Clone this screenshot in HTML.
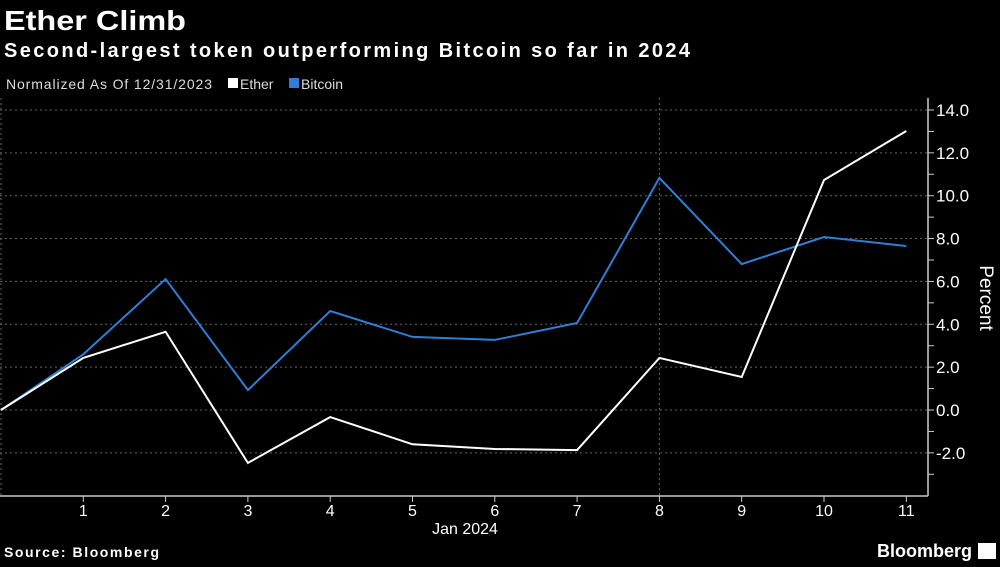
<!DOCTYPE html>
<html><head><meta charset="utf-8"><style>
body{margin:0;background:#000;width:1000px;height:562px;overflow:hidden;font-family:"Liberation Sans",sans-serif;color:#fff}
</style></head><body>
<svg width="1000" height="562" xmlns="http://www.w3.org/2000/svg">
<text x="4" y="30" font-size="28" font-weight="bold" fill="#fff" textLength="182" lengthAdjust="spacingAndGlyphs">Ether Climb</text>
<text x="4" y="57" font-size="20" font-weight="bold" fill="#fff" textLength="686" lengthAdjust="spacing">Second-largest token outperforming Bitcoin so far in 2024</text>
<text x="6" y="89" font-size="14" fill="#ddd" textLength="206">Normalized As Of 12/31/2023</text>
<rect x="228" y="78" width="10" height="10" fill="#fff"/>
<text x="240" y="89" font-size="14" fill="#ddd">Ether</text>
<rect x="289" y="78" width="10" height="10" fill="#2f7fd6"/>
<text x="301" y="89" font-size="14" fill="#ddd">Bitcoin</text>
<g id="grid"></g>
<g id="axes"></g>
<g id="series"></g>
<text transform="translate(980,298) rotate(90)" font-size="19" fill="#fff" text-anchor="middle">Percent</text>
<text x="465" y="534" font-size="16" fill="#fff" text-anchor="middle">Jan 2024</text>
<text x="4" y="557" font-size="14" font-weight="bold" fill="#fff" textLength="155">Source: Bloomberg</text>
<text x="972" y="557" font-size="18" font-weight="bold" fill="#fff" text-anchor="end">Bloomberg</text>
<rect x="978" y="543" width="18" height="16" fill="#fff"/>
</svg>
<script>
const days=[0,1,2,3,4,5,6,7,8,9,10,11];
const ether=[0,2.43,3.65,-2.47,-0.33,-1.6,-1.82,-1.87,2.43,1.54,10.73,13.02];
const bitcoin=[0,2.6,6.11,0.93,4.62,3.41,3.27,4.06,10.83,6.81,8.07,7.65];
const yTicks=[-2,0,2,4,6,8,10,12,14];
const xTicks=[1,2,3,4,5,6,7,8,9,10,11];
const NS="http://www.w3.org/2000/svg";
const x=d=>1+d*82.3;
const y=v=>410-v*21.43;
function mk(t,a,p){const e=document.createElementNS(NS,t);for(const k in a)e.setAttribute(k,a[k]);document.getElementById(p).appendChild(e);return e;}
yTicks.forEach(v=>{
 const g=mk('line',{x1:0,x2:928,y1:y(v),y2:y(v),stroke:'#666','stroke-dasharray':'2,3','stroke-width':1},'grid');
 
 
 const t=mk('text',{x:936,y:y(v)+6,'font-size':17,fill:'#fff'},'axes');t.textContent=v.toFixed(1);
 
 
});
for(let v=-3;v<=14;v++){const l=mk('line',{x1:928,x2:934,y1:y(v),y2:y(v),stroke:'#ccc'},'axes');
 
 }
[0,8].forEach(d=>{const l=mk('line',{x1:x(d),x2:x(d),y1:98,y2:496,stroke:'#666','stroke-dasharray':'2,3'},'grid');
 
 });
let a=mk('line',{x1:0,x2:928,y1:496,y2:496,stroke:'#ccc','stroke-width':1.5},'axes');


a=mk('line',{x1:928,x2:928,y1:98,y2:496,stroke:'#ccc','stroke-width':1.5},'axes');


xTicks.forEach(d=>{
 const l=mk('line',{x1:x(d),x2:x(d),y1:496,y2:502,stroke:'#ccc'},'axes');
 
 
 const t=mk('text',{x:x(d),y:516,'font-size':16,fill:'#fff','text-anchor':'middle'},'axes');t.textContent=d;
 
 
});
function line(vals,col,name){
 const p=mk('polyline',{points:vals.map((v,i)=>x(days[i])+','+y(v)).join(' '),fill:'none',stroke:col,'stroke-width':2},'series');
 
 
}
line(bitcoin,'#2f7fd6','bitcoin-line');
line(ether,'#ffffff','ether-line');
</script>
</body></html>
